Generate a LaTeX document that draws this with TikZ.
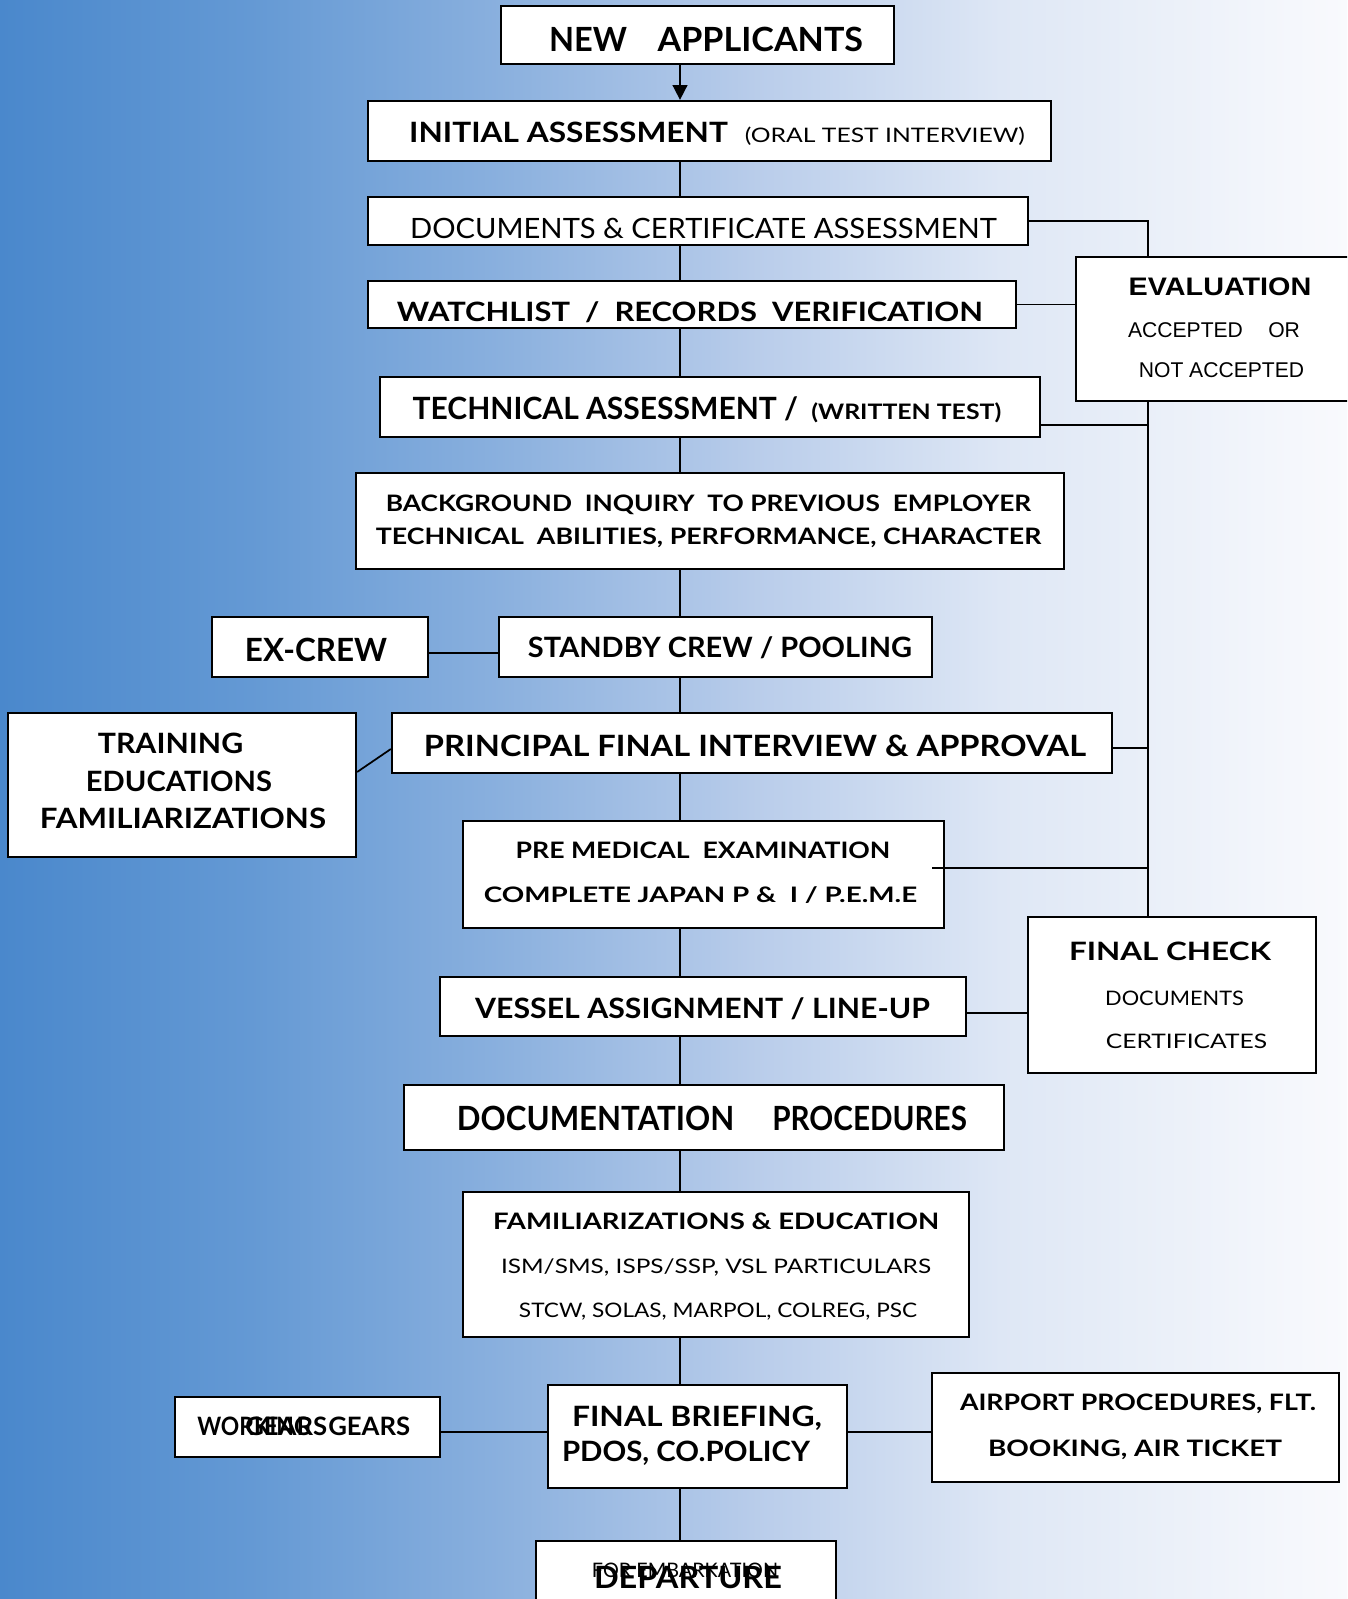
\documentclass[tikz,border=0pt]{standalone}
\usepackage{fontspec}
\usepackage{graphicx}
\setmainfont{Lato}
\newfontfamily\arial{Liberation Sans}
\usetikzlibrary{fit,arrows.meta}
\newcommand\fw[3]{\resizebox{#1pt}{\height}{\fontsize{#2pt}{#2pt}\selectfont #3}}
\definecolor{g0}{RGB}{74,136,204}
\definecolor{g1}{RGB}{100,153,212}
\definecolor{g2}{RGB}{138,176,222}
\definecolor{g3}{RGB}{184,204,234}
\definecolor{g4}{RGB}{222,231,245}
\definecolor{g5}{RGB}{249,250,253}
\tikzset{
  box/.style={draw=black, line width=1.7pt, fill=white, inner sep=0pt},
  lbl/.style={anchor=base, inner sep=0pt, text=black},
  conn/.style={draw=black, line width=1.3pt},
}
\begin{document}
\begin{tikzpicture}[x=0.75pt,y=-0.75pt]
\useasboundingbox (0,0) rectangle (1347,1599);
\clip (0,0) rectangle (1347,1599);
% background
\shade[left color=g0,right color=g1] (0,0) rectangle (251,1599);
\shade[left color=g1,right color=g2] (250,0) rectangle (501,1599);
\shade[left color=g2,right color=g3] (500,0) rectangle (751,1599);
\shade[left color=g3,right color=g4] (750,0) rectangle (1001,1599);
\shade[left color=g4,right color=g5] (1000,0) rectangle (1347,1599);

% helper coordinates
\coordinate (sp) at (680,0);
\coordinate (rl) at (1148,0);
\coordinate (h425) at (0,425);
\coordinate (h748) at (0,748);
\coordinate (h1013) at (0,1013);
\coordinate (h653) at (0,653);
\coordinate (h772) at (0,772);
\coordinate (h749) at (0,749);
\coordinate (h1432) at (0,1432);
\coordinate (pmL) at (932,868);

% boxes
\node[box, fit={(501,6) (894,64)}] (new) {};
\node[box, fit={(368,101) (1051,161)}] (init) {};
\node[box, fit={(368,197) (1028,245)}] (docs) {};
\node[box, fit={(368,281) (1016,328)}] (watch) {};
\node[box, fit={(1076,257) (1370,401)}] (eval) {};
\node[box, fit={(380,377) (1040,437)}] (tech) {};
\node[box, fit={(356,473) (1064,569)}] (bg) {};
\node[box, fit={(212,617) (428,677)}] (excrew) {};
\node[box, fit={(499,617) (932,677)}] (standby) {};
\node[box, fit={(8,713) (356,857)}] (train) {};
\node[box, fit={(392,713) (1112,773)}] (princ) {};
\node[box, fit={(463,821) (944,928)}] (premed) {};
\node[box, fit={(1028,917) (1316,1073)}] (fcheck) {};
\node[box, fit={(440,977) (966,1036)}] (vessel) {};
\node[box, fit={(404,1085) (1004,1150)}] (docproc) {};
\node[box, fit={(463,1192) (969,1337)}] (fam) {};
\node[box, fit={(175,1397) (440,1457)}] (gears) {};
\node[box, fit={(548,1385) (847,1488)}] (brief) {};
\node[box, fit={(932,1373) (1339,1482)}] (airport) {};
\node[box, fit={(536,1541) (836,1650)}] (depart) {};

% texts
\node[lbl] (tNew) at (706,51) {\fw{58.5}{25}{\bfseries NEW}\hspace{23pt}\fw{154}{25}{\bfseries APPLICANTS}};
\node[lbl] (tInit) at (717,142) {\fw{239}{21}{\bfseries INITIAL ASSESSMENT}\hspace{12.75pt}\fw{210}{15}{(ORAL TEST INTERVIEW)}};
\node[lbl] (tDocs) at (703.5,238) {\fw{440}{21}{DOCUMENTS \& CERTIFICATE ASSESSMENT}};
\node[lbl] (tWatch) at (690,321) {\fw{439.5}{20}{\bfseries WATCHLIST \ / \ RECORDS \ VERIFICATION}};
\node[lbl] (tEval1) at (1220,295) {\fw{137}{19}{\arial\bfseries EVALUATION}};
\node[lbl] (tEval2) at (1214,337) {\fw{129}{16}{\arial ACCEPTED\hspace{1.2em}OR}};
\node[lbl] (tEval3) at (1221.5,377) {\fw{124}{16}{\arial NOT ACCEPTED}};
\node[lbl] (tTech) at (707,419) {\fw{289}{23}{\bfseries TECHNICAL ASSESSMENT /}\hspace{10pt}\fw{142.5}{16}{\bfseries (WRITTEN TEST)}};
\node[lbl] (tBg1) at (708.5,511) {\fw{484}{17}{\bfseries BACKGROUND \ INQUIRY \ TO PREVIOUS \ EMPLOYER}};
\node[lbl] (tBg2) at (708.5,544) {\fw{499}{17}{\bfseries TECHNICAL \ ABILITIES, PERFORMANCE, CHARACTER}};
\node[lbl] (tEx) at (316,661) {\fw{106.5}{24}{\bfseries EX-CREW}};
\node[lbl] (tStand) at (720,657) {\fw{288}{21}{\bfseries STANDBY CREW / POOLING}};
\node[lbl] (tTr1) at (170.5,753) {\fw{109}{21}{\bfseries TRAINING}};
\node[lbl] (tTr2) at (179,791) {\fw{139.5}{21}{\bfseries EDUCATIONS}};
\node[lbl] (tTr3) at (183,828) {\fw{214.5}{21}{\bfseries FAMILIARIZATIONS}};
\node[lbl] (tPrinc) at (755,756) {\fw{496.5}{22}{\bfseries PRINCIPAL FINAL INTERVIEW \& APPROVAL}};
\node[lbl] (tPm1) at (703,858) {\fw{281}{17}{\bfseries PRE MEDICAL \ EXAMINATION}};
\node[lbl] (tPm2) at (700.5,902) {\fw{325}{16}{\bfseries COMPLETE JAPAN P \& \ I / P.E.M.E}};
\node[lbl] (tFc1) at (1170,960) {\fw{151.5}{19}{\bfseries FINAL CHECK}};
\node[lbl] (tFc2) at (1174.5,1005) {\fw{104}{15}{DOCUMENTS}};
\node[lbl] (tFc3) at (1186.5,1048) {\fw{121}{15}{CERTIFICATES}};
\node[lbl] (tVes) at (702.5,1018) {\fw{341}{21}{\bfseries VESSEL ASSIGNMENT / LINE-UP}};
\node[lbl] (tDp) at (712,1130) {\fw{208}{25}{\bfseries DOCUMENTATION}\hspace{28.5pt}\fw{146}{25}{\bfseries PROCEDURES}};
\node[lbl] (tFam1) at (716,1229) {\fw{334.5}{17}{\bfseries FAMILIARIZATIONS \& EDUCATION}};
\node[lbl] (tFam2) at (716,1273) {\fw{322.5}{15}{ISM/SMS, ISPS/SSP, VSL PARTICULARS}};
\node[lbl] (tFam3) at (718,1317) {\fw{298.5}{15}{STCW, SOLAS, MARPOL, COLREG, PSC}};
\node[lbl, anchor=base west] (tG1) at (197,1435) {\fw{85}{19}{\bfseries WORKING}};
\node[lbl, anchor=base west] (tG2) at (245,1435) {\fw{61.5}{19}{\bfseries GEARS}};
\node[lbl, anchor=base west] (tG3) at (328,1435) {\fw{61.5}{19}{\bfseries GEARS}};
\node[lbl] (tBr1) at (697,1426) {\fw{187.5}{21}{\bfseries FINAL BRIEFING,}};
\node[lbl] (tBr2) at (686,1461) {\fw{186}{21}{\bfseries PDOS, CO.POLICY}};
\node[lbl] (tAir1) at (1138,1410) {\fw{267}{17}{\bfseries AIRPORT PROCEDURES, FLT.}};
\node[lbl] (tAir2) at (1135,1456) {\fw{220.5}{17}{\bfseries BOOKING, AIR TICKET}};
\node[lbl] (tDep2) at (685,1577) {\fw{139.5}{15}{FOR EMBARKATION}};
\node[lbl] (tDep1) at (688,1588) {\fw{141}{23}{\bfseries DEPARTURE}};

% spine
\draw[conn, -{Triangle[length=11pt,width=11pt]}] (new.south -| sp) -- (init.north -| sp);
\draw[conn] (init.south -| sp) -- (docs.north -| sp);
\draw[conn] (docs.south -| sp) -- (watch.north -| sp);
\draw[conn] (watch.south -| sp) -- (tech.north -| sp);
\draw[conn] (tech.south -| sp) -- (bg.north -| sp);
\draw[conn] (bg.south -| sp) -- (standby.north -| sp);
\draw[conn] (standby.south -| sp) -- (princ.north -| sp);
\draw[conn] (princ.south -| sp) -- (premed.north -| sp);
\draw[conn] (premed.south -| sp) -- (vessel.north -| sp);
\draw[conn] (vessel.south -| sp) -- (docproc.north -| sp);
\draw[conn] (docproc.south -| sp) -- (fam.north -| sp);
\draw[conn] (fam.south -| sp) -- (brief.north -| sp);
\draw[conn] (brief.south -| sp) -- (depart.north -| sp);

% right side
\draw[conn] (docs.east) -| (rl |- eval.north);
\draw[conn] (watch.east) -- (watch.east -| eval.west);
\draw[conn] (rl |- eval.south) -- (rl |- fcheck.north);
\draw[conn] (tech.east |- h425) -- (rl |- h425);
\draw[conn] (princ.east |- h748) -- (rl |- h748);
\draw[conn] (pmL) -- (rl |- pmL);
\draw[conn] (vessel.east |- h1013) -- (fcheck.west |- h1013);

% left side
\draw[conn] (excrew.east |- h653) -- (standby.west |- h653);
\draw[conn] (train.east |- h772) -- (princ.west |- h749);
\draw[conn] (gears.east |- h1432) -- (brief.west |- h1432);
\draw[conn] (brief.east |- h1432) -- (airport.west |- h1432);
\end{tikzpicture}
\end{document}
